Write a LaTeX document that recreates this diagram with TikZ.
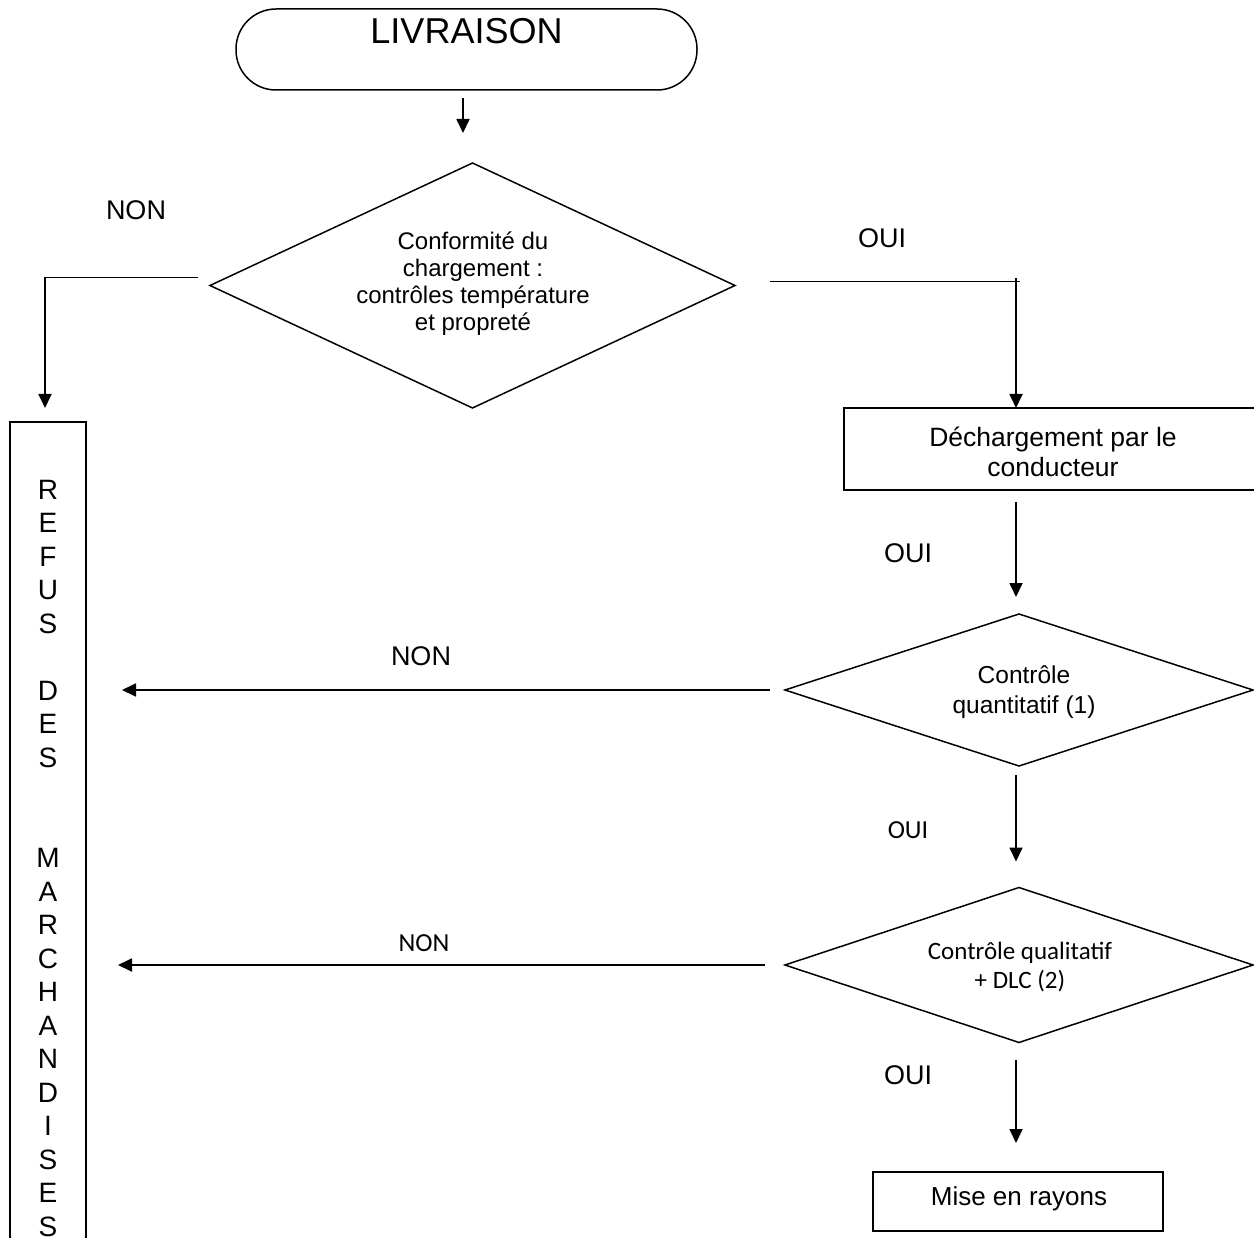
\documentclass[tikz,border=0pt]{standalone}
\usepackage{fontspec}
\setmainfont{Liberation Sans}
\newfontfamily\calib{Carlito}
\usetikzlibrary{shapes.geometric,arrows.meta,calc}
\begin{document}
\begin{tikzpicture}[x=1pt,y=-1pt,
  every node/.style={inner sep=0pt, outer sep=0pt},
  ln/.style={line width=1.5pt},
  thinln/.style={line width=1pt},
  arr/.style={line width=1.8pt, -{Triangle[length=14pt,width=13pt]}},
  dia/.style={draw, line width=1.5pt, diamond},
  box/.style={draw, line width=1.5pt, rectangle},
  lbl/.style={font=\fontsize{27}{30}\selectfont},
  clbl/.style={font=\calib\fontsize{26}{30}\selectfont}
]
\useasboundingbox (0,0) rectangle (1254,1238);
\fill[white] (0,0) rectangle (1254,1238);

% LIVRAISON
\node[box, rounded corners=40pt, minimum width=461pt, minimum height=81pt] (liv) at (466.5,49.5) {};
\node[font=\fontsize{36}{40}\selectfont, anchor=base] (livt) at (466.5,44) {LIVRAISON};

% decision 1
\node[dia, minimum width=525pt, minimum height=245pt] (d1) at (472.5,285.5) {};
\node[align=center, font=\fontsize{24}{27}\selectfont] (d1t) at (473,284) {Conformité du\\chargement :\\contrôles température\\et propreté};

% unloading box
\node[box, minimum width=418pt, minimum height=82pt] (dech) at (1053,449) {};
\node[align=center, font=\fontsize{26.5}{30.5}\selectfont] (decht) at (1053,452) {Déchargement par le\\conducteur};

% decision 2
\node[dia, minimum width=468pt, minimum height=152pt] (d2) at (1019,690) {};
\node[align=center, font=\fontsize{24.5}{30}\selectfont] (d2t) at (1024,692) {Contrôle\\quantitatif (1)};

% decision 3
\node[dia, minimum width=468pt, minimum height=155pt] (d3) at (1019,965) {};
\node[align=center, font=\calib\fontsize{25}{28.5}\selectfont] (d3t) at (1020,967) {Contrôle qualitatif\\+ DLC (2)};

% final box
\node[box, minimum width=290pt, minimum height=59pt] (mise) at (1018,1201.5) {};
\node[font=\fontsize{26}{30}\selectfont] (miset) at (1019,1199) {Mise en rayons};

% refusal column
\node[box, minimum width=76pt, minimum height=840pt, anchor=north] (refus) at (48,422) {};
\node[align=center, anchor=north, font=\fontsize{28}{33.5}\selectfont] (refust) at (48,480)
  {R\\E\\F\\U\\S\\\mbox{}\\D\\E\\S\\\mbox{}\\\mbox{}\\M\\A\\R\\C\\H\\A\\N\\D\\I\\S\\E\\S};

% labels
\node[lbl] (non1) at (136,210) {NON};
\node[lbl] (oui1) at (882,238) {OUI};
\node[lbl] (oui2) at (908,553) {OUI};
\node[lbl] (non2) at (421,656) {NON};
\node[clbl] (oui3) at (908,830) {OUI};
\node[clbl] (non3) at (424,943) {NON};
\node[lbl] (oui4) at (908,1075) {OUI};

% connectors
\draw[arr] ([shift={(-3.5,8)}]liv.south) -- ([shift={(-9.5,-30)}]d1.north);
\draw[arr] ([shift={(-12,-8)}]d1.west) -| ([shift={(-3,-14)}]refus.north);
\draw[thinln] ([shift={(35,-4)}]d1.east) -- ++(250,0);
\draw[arr] ([shift={(-37,-130)}]dech.north) -- ([shift={(-37,0)}]dech.north);
\draw[arr] ([shift={(-37,12)}]dech.south) -- ([shift={(-3,-17)}]d2.north);
\draw[arr] ([shift={(-15,0)}]d2.west) -- ($(refus.east |- d2.west)+(36,0)$);
\draw[arr] ([shift={(-3,9)}]d2.south) -- ([shift={(-3,-26)}]d3.north);
\draw[arr] ([shift={(-20,0)}]d3.west) -- ($(refus.east |- d3.west)+(32,0)$);
\draw[arr] ([shift={(-3,17)}]d3.south) -- ([shift={(-2,-29)}]mise.north);
\end{tikzpicture}
\end{document}
